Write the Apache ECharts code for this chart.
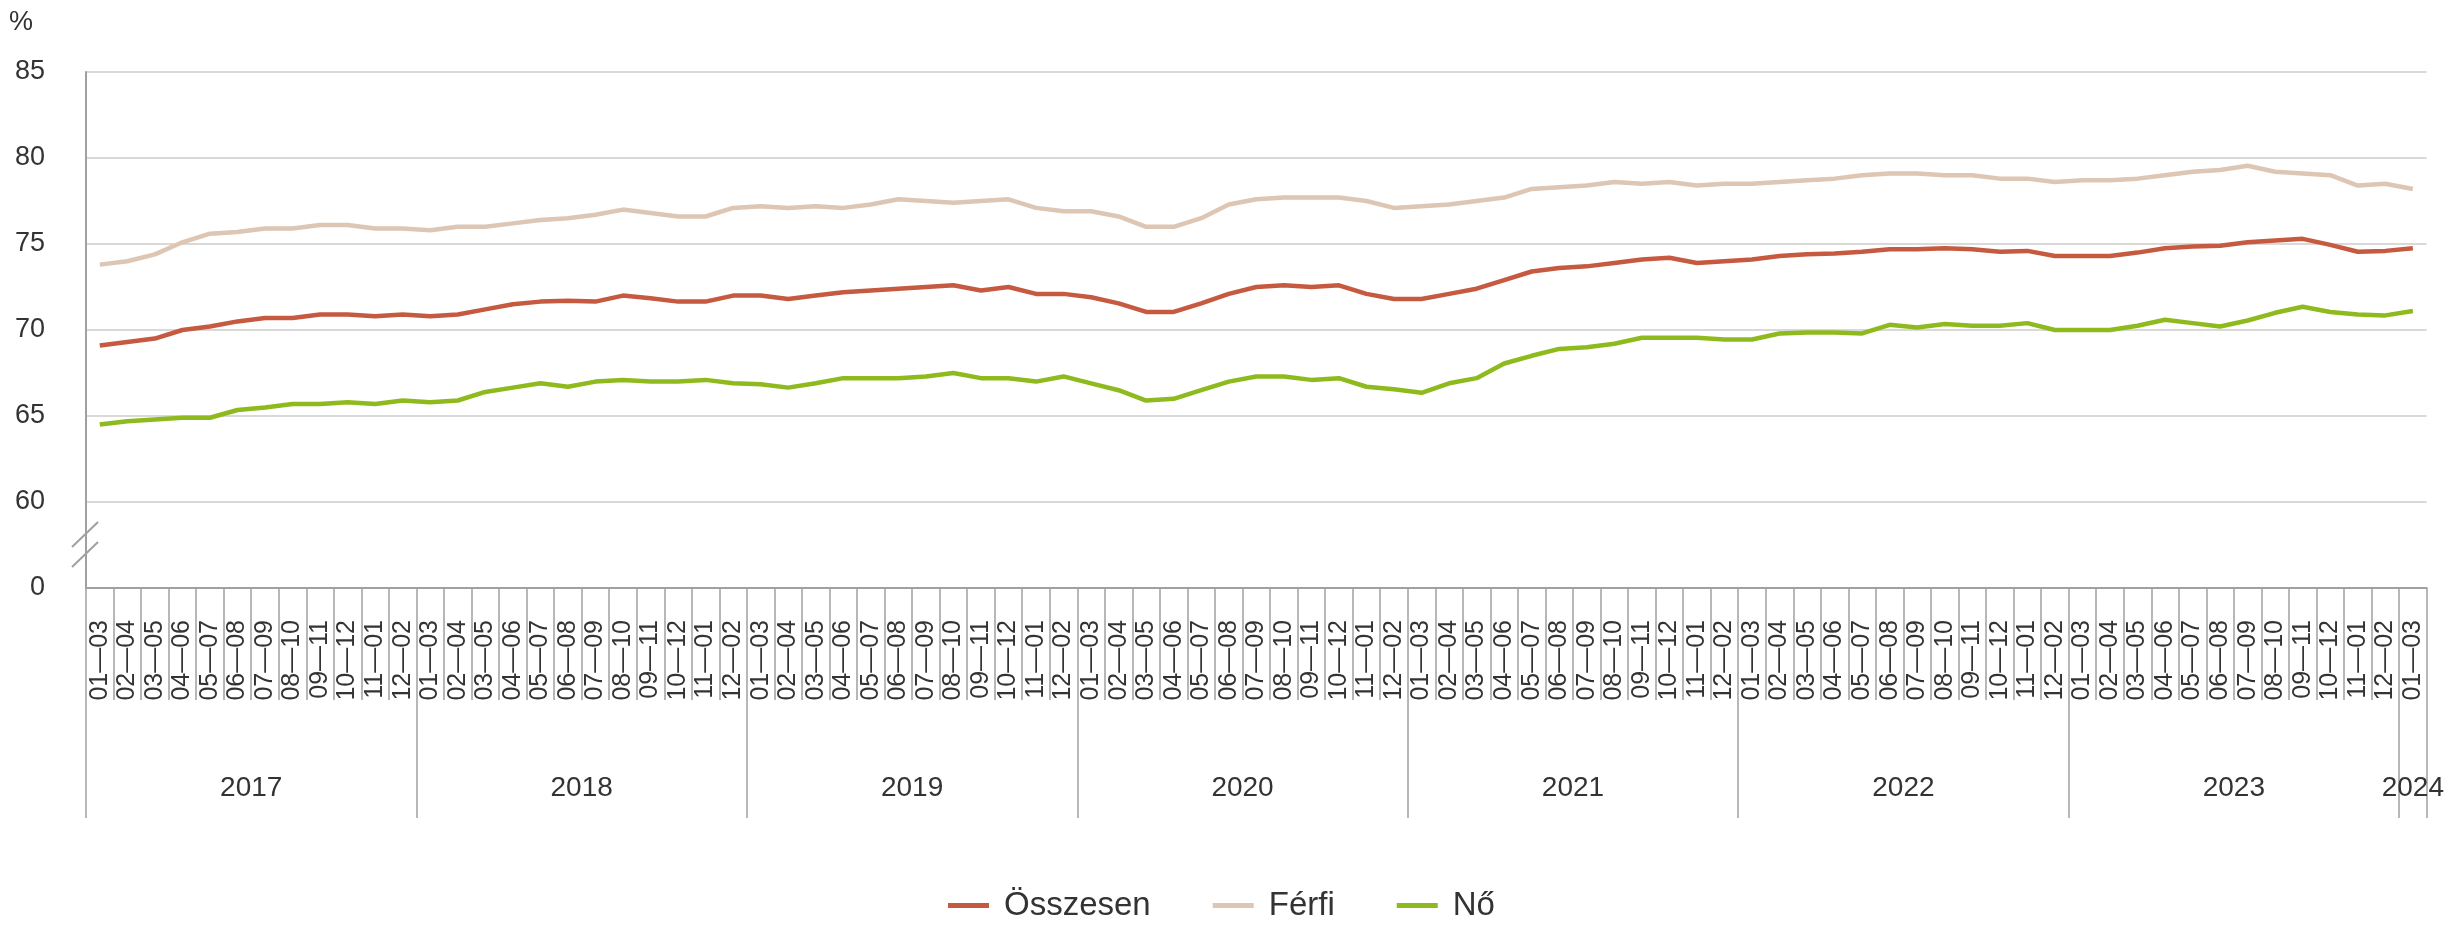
<!DOCTYPE html>
<html>
<head>
<meta charset="utf-8">
<script src="https://cdn.jsdelivr.net/npm/echarts@6/dist/echarts.min.js"></script>
<style>
html,body{margin:0;padding:0;background:#fff;}
#chart{width:2447px;height:930px;}
</style>
</head>
<body>
<div id="chart"></div>
<script>
// ---- DATA ----
const periodLabels = ['01—03','02—04','03—05','04—06','05—07','06—08','07—09','08—10','09—11','10—12','11—01','12—02'];
const yearLabels = ['2017','2018','2019','2020','2021','2022','2023','2024'];
const periodsPerYear = [12,12,12,12,12,12,12,1];
const seriesNames = ['Összesen','Férfi','Nő'];
const yTickValues = [55,60,65,70,75,80,85];
const yTickLabels = ['0','60','65','70','75','80','85'];

const osszesen = [69.1,69.3,69.5,70.0,70.2,70.5,70.7,70.7,70.9,70.9,70.8,70.9,
70.8,70.9,71.2,71.5,71.65,71.7,71.65,72.0,71.85,71.65,71.65,72.0,
72.0,71.8,72.0,72.2,72.3,72.4,72.5,72.6,72.3,72.5,72.1,72.1,
71.9,71.55,71.05,71.05,71.55,72.1,72.5,72.6,72.5,72.6,72.1,71.8,
71.8,72.1,72.4,72.9,73.4,73.6,73.7,73.9,74.1,74.2,73.9,74.0,
74.1,74.3,74.4,74.45,74.55,74.7,74.7,74.75,74.7,74.55,74.6,74.3,
74.3,74.3,74.5,74.75,74.85,74.9,75.1,75.2,75.3,74.95,74.55,74.6,
74.75];
const ferfi = [73.8,74.0,74.4,75.1,75.6,75.7,75.9,75.9,76.1,76.1,75.9,75.9,
75.8,76.0,76.0,76.2,76.4,76.5,76.7,77.0,76.8,76.6,76.6,77.1,
77.2,77.1,77.2,77.1,77.3,77.6,77.5,77.4,77.5,77.6,77.1,76.9,
76.9,76.6,76.0,76.0,76.5,77.3,77.6,77.7,77.7,77.7,77.5,77.1,
77.2,77.3,77.5,77.7,78.2,78.3,78.4,78.6,78.5,78.6,78.4,78.5,
78.5,78.6,78.7,78.8,79.0,79.1,79.1,79.0,79.0,78.8,78.8,78.6,
78.7,78.7,78.8,79.0,79.2,79.3,79.55,79.2,79.1,79.0,78.4,78.5,
78.2];
const no = [64.5,64.7,64.8,64.9,64.9,65.35,65.5,65.7,65.7,65.8,65.7,65.9,
65.8,65.9,66.4,66.65,66.9,66.7,67.0,67.1,67.0,67.0,67.1,66.9,
66.85,66.65,66.9,67.2,67.2,67.2,67.3,67.5,67.2,67.2,67.0,67.3,
66.9,66.5,65.9,66.0,66.5,67.0,67.3,67.3,67.1,67.2,66.7,66.55,
66.35,66.9,67.2,68.05,68.5,68.9,69.0,69.2,69.55,69.55,69.55,69.45,
69.45,69.8,69.85,69.85,69.8,70.3,70.15,70.35,70.25,70.25,70.4,70.0,
70.0,70.0,70.25,70.6,70.4,70.2,70.55,71.0,71.35,71.05,70.9,70.85,
71.1];

// ---- derived ----
const categories = [];
const yearBounds = [0];
const yearCenters = [];
periodsPerYear.forEach((n) => {
  const start = categories.length;
  for (let k = 0; k < n; k++) categories.push(periodLabels[k]);
  yearBounds.push(categories.length);
  yearCenters.push((start + categories.length) / 2);
});
const total = categories.length;

const colors = ['#c65a41', '#ddc6b4', '#8fba1e'];
const FONT = '"Liberation Sans", Arial, sans-serif';
const TXT = '#333333';
const AX = '#a0a0a0';

const chart = echarts.init(document.getElementById('chart'), null, {renderer: 'canvas'});
const gridL = 86, gridR = 17, gridT = 72, gridB = 342;

chart.setOption({
  animation: false,
  color: colors,
  textStyle: {fontFamily: FONT},
  grid: {left: gridL, right: gridR, top: gridT, bottom: gridB, containLabel: false},
  legend: {
    data: seriesNames,
    left: 943,
    top: 884,
    itemWidth: 41,
    itemHeight: 5,
    itemGap: 62,
    icon: 'rect',
    textStyle: {fontSize: 33, color: TXT, fontFamily: FONT, padding: [0, 0, 0, 10]}
  },
  xAxis: [{
    type: 'category',
    data: categories,
    boundaryGap: true,
    position: 'bottom',
    axisLine: {show: true, lineStyle: {color: AX, width: 2}},
    axisTick: {show: true, interval: 0, length: 112, lineStyle: {color: AX, width: 1.5}},
    axisLabel: {interval: 0, rotate: 90, margin: 32, fontSize: 25, color: TXT, fontFamily: FONT},
    splitLine: {show: false}
  }, {
    type: 'value',
    min: 0,
    max: total,
    position: 'bottom',
    axisLine: {show: false},
    axisTick: {show: true, customValues: yearBounds, length: 230, lineStyle: {color: AX, width: 1.5}},
    axisLabel: {
      customValues: yearCenters,
      margin: 186,
      fontSize: 28,
      color: TXT,
      fontFamily: FONT,
      formatter: function (v) {
        const idx = yearCenters.findIndex(c => Math.abs(c - v) < 1e-6);
        return idx >= 0 ? yearLabels[idx] : '';
      }
    },
    splitLine: {show: false}
  }],
  yAxis: {
    type: 'value',
    min: 55,
    max: 85,
    interval: 5,
    axisLine: {show: true, lineStyle: {color: AX, width: 2}},
    axisTick: {show: false},
    axisLabel: {
      margin: 41, fontSize: 27, color: TXT, fontFamily: FONT,
      formatter: function (v) {
        const i = yTickValues.indexOf(v);
        return i >= 0 ? yTickLabels[i] : '';
      }
    },
    splitLine: {show: true, lineStyle: {color: '#d9d9d9', width: 2}}
  },
  graphic: [
    {type: 'text', left: 9, top: 9, style: {text: '%', fontSize: 27, fill: TXT, fontFamily: FONT}},
    {type: 'line', shape: {x1: 72, y1: 547, x2: 98, y2: 522}, style: {stroke: AX, lineWidth: 2}},
    {type: 'line', shape: {x1: 72, y1: 567, x2: 98, y2: 542}, style: {stroke: AX, lineWidth: 2}}
  ],
  series: [
    {name: seriesNames[0], type: 'line', data: osszesen, symbol: 'none', lineStyle: {width: 4.5, color: colors[0]}, z: 4},
    {name: seriesNames[1], type: 'line', data: ferfi, symbol: 'none', lineStyle: {width: 4.5, color: colors[1]}, z: 3},
    {name: seriesNames[2], type: 'line', data: no, symbol: 'none', lineStyle: {width: 4.5, color: colors[2]}, z: 3}
  ]
});
</script>
</body>
</html>
